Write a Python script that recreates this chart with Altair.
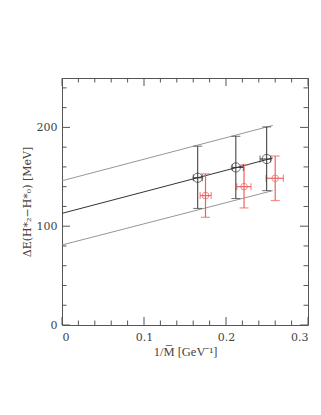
import altair as alt
import pandas as pd

# --- data ---
blk_x = [0.1655, 0.212, 0.2496]
blk_y = [149, 159.5, 168]
blk_ylo = [118, 128, 136]
blk_yhi = [181, 191, 200.5]
blk_xlo = [0.1601, 0.2077, 0.2415]
blk_xhi = [0.1711, 0.2211, 0.2545]

red_x = [0.175, 0.222, 0.260]
red_y = [131, 140, 148.5]
red_ylo = [109, 118.5, 126]
red_yhi = [153, 162, 171]
red_xlo = [0.1685, 0.2131, 0.2488]
red_xhi = [0.1819, 0.2305, 0.2700]

fit_x = [0.0, 0.257]
fit_mid = [113, 169]
fit_up = [146, 202]
fit_lo = [81, 136]

x_major = [0.0, 0.1, 0.2, 0.3]
x_minor = [0.02, 0.04, 0.06, 0.08, 0.12, 0.14, 0.16, 0.18, 0.22, 0.24, 0.26, 0.28]
y_major = [0, 100, 200]
y_minor = [20, 40, 60, 80, 120, 140, 160, 180, 220, 240]

W, H = 246, 247
FONT = "DejaVu Serif"

xs = alt.Scale(domain=[0, 0.3], nice=False, zero=False)
ys = alt.Scale(domain=[0, 250], nice=False, zero=False)

blk = pd.DataFrame(dict(x=blk_x, y=blk_y, ylo=blk_ylo, yhi=blk_yhi, xlo=blk_xlo, xhi=blk_xhi))
red = pd.DataFrame(dict(x=red_x, y=red_y, ylo=red_ylo, yhi=red_yhi, xlo=red_xlo, xhi=red_xhi))

fit = pd.DataFrame({
    "x": fit_x * 3,
    "y": fit_mid + fit_up + fit_lo,
    "which": ["mid"] * 2 + ["up"] * 2 + ["lo"] * 2,
})

X = lambda f="x": alt.X(f, type="quantitative", scale=xs)
Y = lambda f="y": alt.Y(f, type="quantitative", scale=ys)

base_axes = alt.Chart(pd.DataFrame({"x": [0.0], "y": [0.0]})).mark_point(opacity=0).encode(
    x=alt.X("x:Q", scale=xs,
            axis=alt.Axis(values=x_major, format=".1~f", ticks=False, domain=False, grid=False,
                          labelPadding=6, titlePadding=3,
                          titleFont="Liberation Serif", titleFontSize=12.5,
                          title="1/M\u0305 [GeV\u207b\u00b9]")),
    y=alt.Y("y:Q", scale=ys,
            axis=alt.Axis(values=y_major, format="d", ticks=False, domain=False, grid=False,
                          labelPadding=5, titlePadding=4,
                          title="\u0394E(H*\u2082\u2212H*\u2080) [MeV]")),
)

layers = [base_axes]

# fit lines
for w, col, sw in [("up", "#8a8a8a", 0.9), ("lo", "#8a8a8a", 0.9), ("mid", "#333333", 1.0)]:
    d = fit[fit.which == w]
    layers.append(alt.Chart(d).mark_line(color=col, strokeWidth=sw).encode(x=X(), y=Y()))

def errs(df, col, size_circ, bw):
    ch = alt.Chart(df)
    return [
        ch.mark_rule(color=col, strokeWidth=bw).encode(x=X(), y=Y("ylo"), y2="yhi"),
        ch.mark_rule(color=col, strokeWidth=bw).encode(x=X("xlo"), x2="xhi", y=Y()),
        ch.mark_tick(color=col, orient="horizontal", size=9, thickness=bw).encode(x=X(), y=Y("ylo")),
        ch.mark_tick(color=col, orient="horizontal", size=9, thickness=bw).encode(x=X(), y=Y("yhi")),
        ch.mark_tick(color=col, orient="vertical", size=7, thickness=bw).encode(x=X("xlo"), y=Y()),
        ch.mark_tick(color=col, orient="vertical", size=7, thickness=bw).encode(x=X("xhi"), y=Y()),
        ch.mark_point(shape="circle", filled=False, color=col, size=size_circ, strokeWidth=1).encode(x=X(), y=Y()),
    ]

layers += errs(red, "#f06060", 45, 1.2)
layers += errs(blk, "#333333", 85, 1.0)

# in-pointing ticks on all four sides
def xticks(vals, ln):
    d = pd.DataFrame({"x": vals})
    c = alt.Chart(d)
    return [
        c.mark_rule(color="#555555", strokeWidth=1).encode(x=X(), y=alt.value(H), y2=alt.value(H - ln)),
        c.mark_rule(color="#555555", strokeWidth=1).encode(x=X(), y=alt.value(0), y2=alt.value(ln)),
    ]

def yticks(vals, ln):
    d = pd.DataFrame({"y": vals})
    c = alt.Chart(d)
    return [
        c.mark_rule(color="#555555", strokeWidth=1).encode(y=Y(), x=alt.value(0), x2=alt.value(ln)),
        c.mark_rule(color="#555555", strokeWidth=1).encode(y=Y(), x=alt.value(W), x2=alt.value(W - ln)),
    ]

layers += xticks(x_major, 8) + xticks(x_minor, 4.5)
layers += yticks(y_major, 8) + yticks(y_minor, 4.5)

chart = alt.layer(*layers).properties(
    width=W, height=H,
    autosize=alt.AutoSizeParams(type="none"),
    padding={"left": 54, "top": 70, "right": 4, "bottom": 60},
).configure_view(
    stroke="#555555", strokeWidth=1
).configure_axis(
    labelFont=FONT, titleFont=FONT, labelFontSize=11, titleFontSize=11,
    labelColor="#444444", titleColor="#444444", titleFontWeight="normal",
)

chart.save("out.html", embed_options={"renderer": "svg", "actions": False})
